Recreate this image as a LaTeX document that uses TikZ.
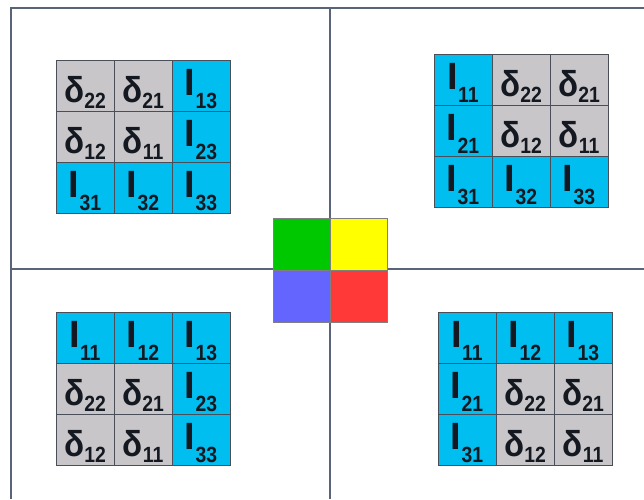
\documentclass[tikz,border=0pt]{standalone}
\usepackage{fontspec}
\setsansfont{Liberation Sans}
\usepackage{xcolor}
\usepackage{graphicx}
\usepackage{tikz}
\usetikzlibrary{matrix,positioning}
\definecolor{inkK}{HTML}{141820}
\definecolor{cCyan}{HTML}{00BEF0}
\definecolor{lGray}{HTML}{C8C6C8}
\definecolor{gridC}{HTML}{4A4E58}
\definecolor{frameC}{HTML}{5A6478}
\definecolor{qGreen}{HTML}{00C800}
\definecolor{qYellow}{HTML}{FFFF00}
\definecolor{qBlue}{HTML}{6464FF}
\definecolor{qRed}{HTML}{FF3838}

\newcommand\subn[1]{\raisebox{-6pt}{\scalebox{0.88}[1]{\fontsize{22}{22}\selectfont #1}}}
\newcommand\dcel[1]{\scalebox{0.92}[1]{\fontsize{36}{36}\selectfont δ}\subn{#1}}
\newcommand\icel[1]{\raisebox{7pt}{\fontsize{38}{38}\selectfont I}\subn{#1}}

\tikzset{
  grid3/.style={matrix of nodes, column sep=-0.6pt, row sep=-0.6pt,
    nodes={draw=gridC, line width=0.6pt, minimum width=58pt, minimum height=51pt,
      inner sep=0pt, text height=33pt, text depth=0pt,
      font=\sffamily\bfseries, text=inkK}},
  dc/.style={fill=lGray},
  ic/.style={fill=cCyan},
  quad/.style={draw=gray, line width=0.6pt, minimum width=57pt, minimum height=52pt, inner sep=0pt},
  frame/.style={draw=frameC, line width=1.4pt}
}

\begin{document}
\begin{tikzpicture}[x=1pt, y=-1pt]
  \fill[white] (0,0) rectangle (644,499);
  \useasboundingbox (0,0) rectangle (644,499);

  % frame and cross
  \draw[frame] (11,499) -- (11,8) -- (644,8);
  \draw[frame] (330,8) -- (330,499);
  \draw[frame] (11,269) -- (644,269);

  % top left
  \matrix (tl) [grid3] at (143,137) {
    |[dc]| \dcel{22} & |[dc]| \dcel{21} & |[ic]| \icel{13} \\
    |[dc]| \dcel{12} & |[dc]| \dcel{11} & |[ic]| \icel{23} \\
    |[ic]| \icel{31} & |[ic]| \icel{32} & |[ic]| \icel{33} \\
  };

  % top right
  \matrix (tr) [grid3] at (521,131) {
    |[ic]| \icel{11} & |[dc]| \dcel{22} & |[dc]| \dcel{21} \\
    |[ic]| \icel{21} & |[dc]| \dcel{12} & |[dc]| \dcel{11} \\
    |[ic]| \icel{31} & |[ic]| \icel{32} & |[ic]| \icel{33} \\
  };

  % bottom left
  \matrix (bl) [grid3] at (143,389) {
    |[ic]| \icel{11} & |[ic]| \icel{12} & |[ic]| \icel{13} \\
    |[dc]| \dcel{22} & |[dc]| \dcel{21} & |[ic]| \icel{23} \\
    |[dc]| \dcel{12} & |[dc]| \dcel{11} & |[ic]| \icel{33} \\
  };

  % bottom right
  \matrix (br) [grid3] at (525,389) {
    |[ic]| \icel{11} & |[ic]| \icel{12} & |[ic]| \icel{13} \\
    |[ic]| \icel{21} & |[dc]| \dcel{22} & |[dc]| \dcel{21} \\
    |[ic]| \icel{31} & |[dc]| \dcel{12} & |[dc]| \dcel{11} \\
  };

  % colour squares
  \node[quad, fill=qGreen] (qg) at (301.5,244) {};
  \node[quad, fill=qYellow, right=0pt of qg] (qy) {};
  \node[quad, fill=qBlue, below=0pt of qg] (qb) {};
  \node[quad, fill=qRed, right=0pt of qb] (qr) {};
\end{tikzpicture}
\end{document}
